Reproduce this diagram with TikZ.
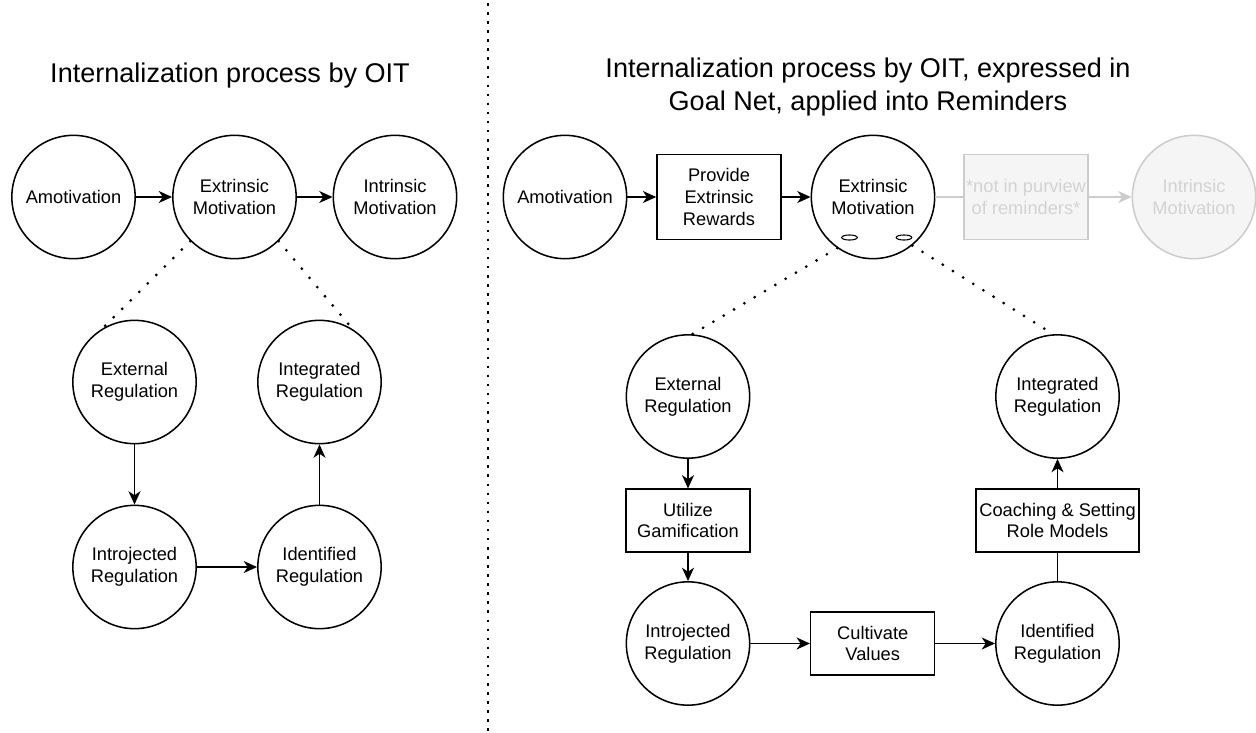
\documentclass[tikz,border=0pt]{standalone}
\usepackage{fontspec}
\setmainfont{Liberation Sans}
\usetikzlibrary{arrows.meta,shapes.geometric}
\definecolor{gstroke}{HTML}{CCCCCC}
\definecolor{gfill}{HTML}{F5F5F5}
\definecolor{gtext}{HTML}{D3D3D3}
\begin{document}
\begin{tikzpicture}[x=0.75pt,y=-0.75pt,
  lbl/.style={font=\fontsize{13.7}{16.3}\selectfont, align=center, text=black},
  circ/.style={circle, draw, line width=1.15pt, minimum size=92.5pt, inner sep=0pt, lbl},
  gcirc/.style={circ, draw=gstroke, fill=gfill, text=gtext},
  boxn/.style={rectangle, draw, line width=1.15pt, minimum width=93pt, minimum height=46.9pt, inner sep=1pt, lbl},
  gboxn/.style={boxn, draw=gstroke, fill=gfill, text=gtext},
  arr/.style={-{Stealth[length=10pt,width=9pt,inset=3pt]}, line width=1.15pt},
  garr/.style={arr, draw=gstroke},
  plain/.style={line width=1.15pt},
  dotl/.style={line width=2.3pt, line cap=round, dash pattern=on 0pt off 9pt},
  divl/.style={line width=2pt, dash pattern=on 1.9pt off 4.9pt},
  ttl/.style={font=\fontsize{20.3}{25.4}\selectfont, align=center},
  knob/.style={ellipse, draw, line width=0.8pt, minimum width=11.7pt, minimum height=3.8pt, inner sep=0pt}
]
\useasboundingbox (0,0) rectangle (1256,732);

% divider
\coordinate (dtop) at (488,3);
\coordinate (dbot) at (488,732);
\draw[divl] (dtop) -- (dbot);

% titles
\node[ttl] (tL) at (230,75) {Internalization process by OIT};
\node[ttl] (tR) at (868,87) {Internalization process by OIT, expressed in\\Goal Net, applied into Reminders};

% left diagram
\node[circ] (amoL) at (73.5,197) {Amotivation};
\node[circ] (extL) at (234.5,197) {Extrinsic\\Motivation};
\node[circ] (intL) at (395,197) {Intrinsic\\Motivation};
\node[circ] (eregL) at (134.5,382) {External\\Regulation};
\node[circ] (igregL) at (319.5,382) {Integrated\\Regulation};
\node[circ] (inregL) at (134.5,567) {Introjected\\Regulation};
\node[circ] (idregL) at (319.5,567) {Identified\\Regulation};

\draw[arr] (amoL) -- (extL);
\draw[arr] (extL) -- (intL);
\draw[arr] (eregL) -- (inregL);
\draw[arr] (inregL) -- (idregL);
\draw[arr] (idregL) -- (igregL);
\draw[dotl] (extL.225) -- (eregL.121);
\draw[dotl] (extL.315) -- (igregL.58);

% right diagram
\node[circ] (amoR) at (565,197) {Amotivation};
\node[boxn, minimum height=63.75pt] (prov) at (719,197) {Provide\\Extrinsic\\Rewards};
\node[circ] (extR) at (873,197) {Extrinsic\\Motivation};
\node[gboxn, minimum height=63.75pt] (npur) at (1026,197) {*not in purview\\of reminders*};
\node[gcirc] (intR) at (1194,197) {Intrinsic\\Motivation};
\node[knob] (k1) at (849.5,237.5) {};
\node[knob] (k2) at (904,237.5) {};

\node[circ] (eregR) at (688,396.5) {External\\Regulation};
\node[boxn] (gam) at (688,520.5) {Utilize\\Gamification};
\node[circ] (inregR) at (688,643.5) {Introjected\\Regulation};
\node[boxn] (cult) at (872.7,643.5) {Cultivate\\Values};
\node[circ] (idregR) at (1057.5,643.5) {Identified\\Regulation};
\node[boxn, minimum width=122pt] (coach) at (1057.5,520.5) {Coaching \& Setting\\Role Models};
\node[circ] (igregR) at (1057.5,396.5) {Integrated\\Regulation};

\draw[arr] (amoR) -- (prov);
\draw[arr] (prov) -- (extR);
\draw[plain, draw=gstroke] (extR) -- (npur);
\draw[garr] (npur) -- (intR);
\draw[arr] (eregR) -- (gam);
\draw[arr] (gam) -- (inregR);
\draw[arr] (inregR) -- (cult);
\draw[arr] (cult) -- (idregR);
\draw[plain] (idregR) -- (coach);
\draw[arr] (coach) -- (igregR);
\draw[dotl] (extR.235.5) -- (eregR.86);
\draw[dotl] (extR.309.5) -- (igregR.94);
\end{tikzpicture}
\end{document}
